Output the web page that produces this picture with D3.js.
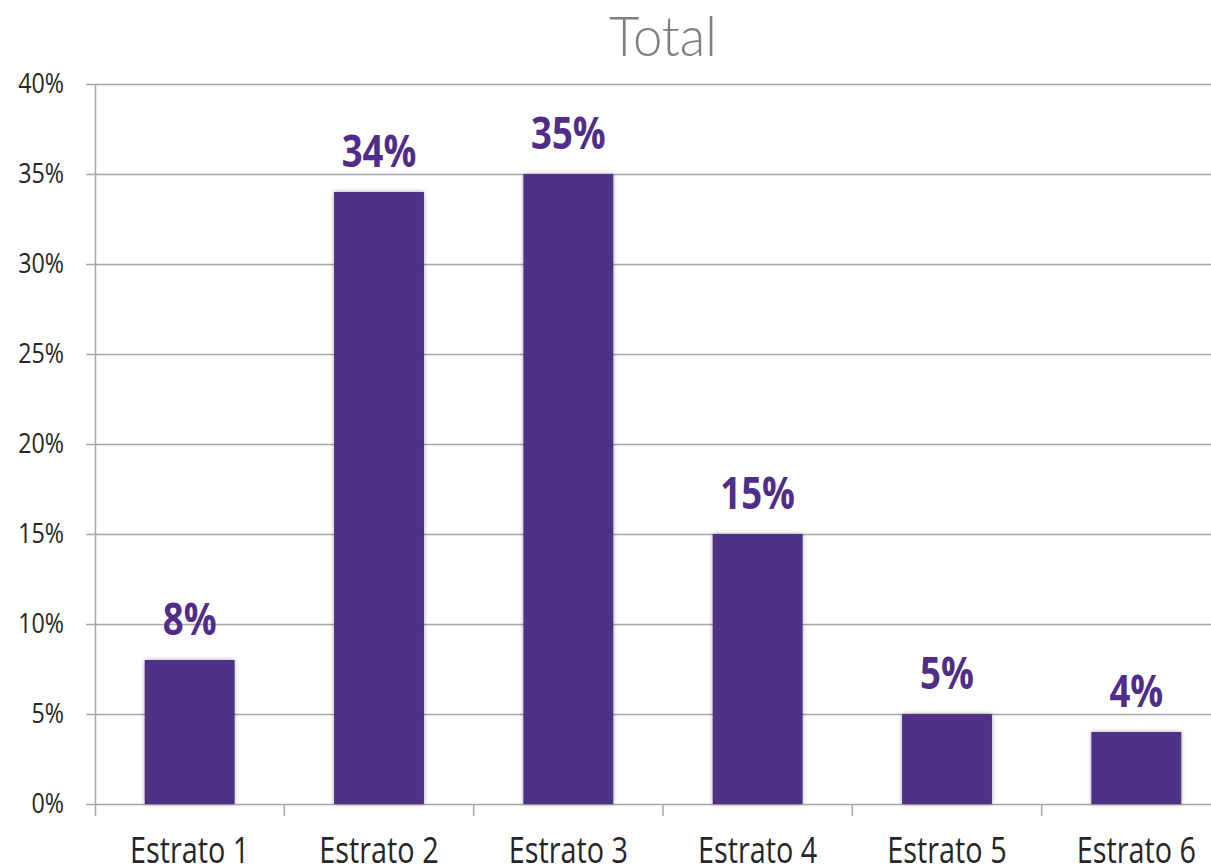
<!DOCTYPE html>
<html>
<head>
<meta charset="utf-8">
<script src="https://cdn.jsdelivr.net/npm/d3@7"></script>
<style>
  body { margin: 0; background: #fff; overflow: hidden; }
  svg { display: block; }
</style>
</head>
<body>
<div id="chart"></div>
<script>
// Chart data
const categories = ['Estrato 1', 'Estrato 2', 'Estrato 3', 'Estrato 4', 'Estrato 5', 'Estrato 6'];
const values = [8, 34, 35, 15, 5, 4];
const yTicks = [0, 5, 10, 15, 20, 25, 30, 35, 40];
const title = 'Total';

const width = 1211;
const height = 867;
const margin = { left: 95, top: 84, bottom: 63 };
const plotRight = 1231; // plot area runs past the right edge of the picture

// squeeze text horizontally around its anchor point (the original font is narrow)
function condense(sel, f) {
  sel.attr('transform', function () {
    const ax = +d3.select(this).attr('x');
    return `translate(${ax},0) scale(${f},1) translate(${-ax},0)`;
  });
}

const svg = d3.select('#chart')
  .append('svg')
  .attr('width', width)
  .attr('height', height);

const defs = svg.append('defs');
const shadow = defs.append('filter').attr('id', 'shadow')
  .attr('x', '-20%').attr('y', '-5%').attr('width', '140%').attr('height', '115%');
shadow.append('feDropShadow')
  .attr('dx', 0).attr('dy', 0).attr('stdDeviation', 2)
  .attr('flood-color', '#000').attr('flood-opacity', 0.35);

const x = d3.scaleBand()
  .domain(categories)
  .range([margin.left, plotRight])
  .paddingInner(0.525)
  .paddingOuter(0.2625);

const y = d3.scaleLinear()
  .domain([0, 40])
  .range([height - margin.bottom, margin.top]);

// Gridlines
svg.append('g')
  .selectAll('line')
  .data(yTicks)
  .join('line')
  .attr('x1', margin.left - 9)
  .attr('x2', width)
  .attr('y1', d => Math.round(y(d)) + 0.5)
  .attr('y2', d => Math.round(y(d)) + 0.5)
  .attr('stroke', '#a6a6a6')
  .attr('stroke-width', 1.5);

// Y axis labels
svg.append('g')
  .selectAll('text')
  .data(yTicks)
  .join('text')
  .attr('x', 64)
  .attr('y', d => y(d) + 9)
  .attr('text-anchor', 'end')
  .attr('font-family', 'Open Sans, sans-serif')
  .attr('font-size', 28)
  .attr('fill', '#262626')
  .text(d => d + '%')
  .call(condense, 0.83);

// Y axis line
svg.append('line')
  .attr('x1', margin.left + 0.5).attr('x2', margin.left + 0.5)
  .attr('y1', y(40)).attr('y2', y(0) + 12)
  .attr('stroke', '#a6a6a6')
  .attr('stroke-width', 1.5);

// Category tick marks between bands
const step = x.step();
svg.append('g')
  .selectAll('line')
  .data(d3.range(1, categories.length))
  .join('line')
  .attr('x1', i => margin.left + i * step)
  .attr('x2', i => margin.left + i * step)
  .attr('y1', y(0))
  .attr('y2', y(0) + 12)
  .attr('stroke', '#a6a6a6')
  .attr('stroke-width', 1.5);

// Bars
svg.append('g')
  .selectAll('rect')
  .data(values)
  .join('rect')
  .attr('x', (d, i) => x(categories[i]))
  .attr('y', d => y(d))
  .attr('width', x.bandwidth())
  .attr('height', d => y(0) - y(d))
  .attr('fill', '#4f3286')
  .attr('filter', 'url(#shadow)');

// Value labels
svg.append('g')
  .selectAll('text')
  .data(values)
  .join('text')
  .attr('x', (d, i) => x(categories[i]) + x.bandwidth() / 2)
  .attr('y', d => y(d) - 25)
  .attr('text-anchor', 'middle')
  .attr('font-family', 'Open Sans, sans-serif')
  .attr('font-weight', 'bold')
  .attr('font-size', 44)
  .attr('fill', '#4f2d89')
  .text(d => d + '%')
  .call(condense, 0.83);

// Category labels
svg.append('g')
  .selectAll('text')
  .data(categories)
  .join('text')
  .attr('x', d => x(d) + x.bandwidth() / 2)
  .attr('y', 863)
  .attr('text-anchor', 'middle')
  .attr('font-family', 'Open Sans, sans-serif')
  .attr('font-size', 36)
  .attr('fill', '#262626')
  .text(d => d)
  .call(condense, 0.8);

// Title
svg.append('text')
  .attr('x', (margin.left + plotRight) / 2)
  .attr('y', 56)
  .attr('text-anchor', 'middle')
  .attr('font-family', 'Lato, sans-serif')
  .attr('font-weight', 300)
  .attr('font-size', 56)
  .attr('fill', '#7f7f7f')
  .text(title)
  .call(condense, 0.94);
</script>
</body>
</html>
